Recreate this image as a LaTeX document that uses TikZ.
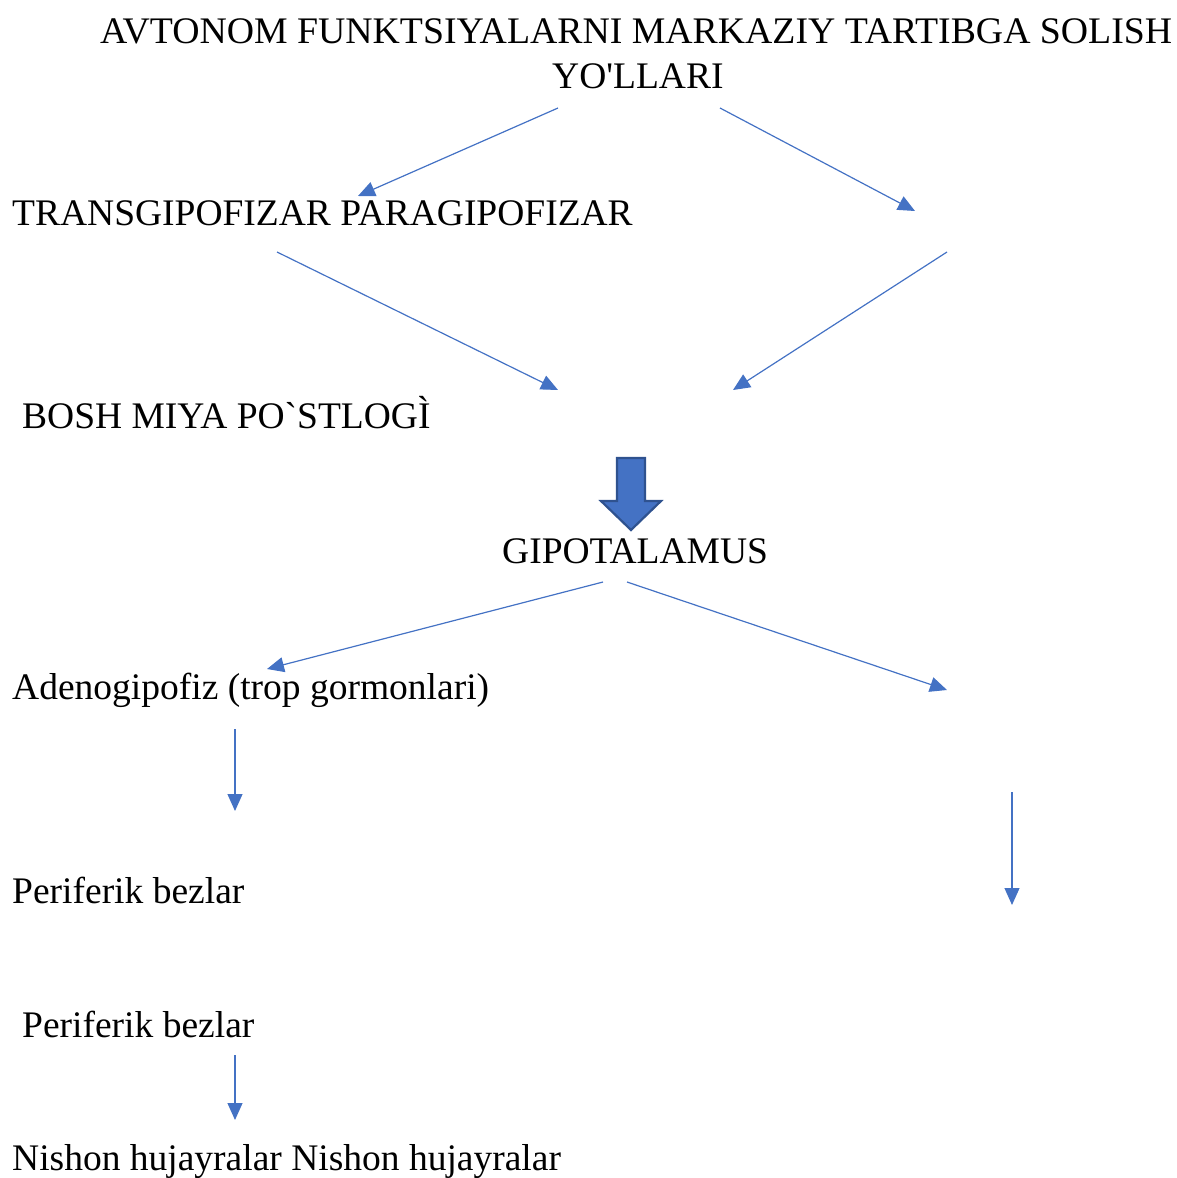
\documentclass[tikz,border=0pt]{standalone}
\usepackage{fontspec}
\usepackage{graphicx}
\setmainfont{Liberation Serif}[Ligatures=TeXOff]
\usetikzlibrary{arrows.meta}

\definecolor{lineblue}{RGB}{68,114,196}
\definecolor{edgeblue}{RGB}{47,82,143}

\tikzset{
  txt/.style={anchor=base west, inner sep=0pt},
  link/.style={draw=lineblue, line width=1.2pt,
    -{Triangle[length=17pt,width=15pt]}},
  bigarrow/.style={fill=lineblue, draw=edgeblue, line width=2.2pt}
}

\begin{document}
\begin{tikzpicture}[x=1pt, y=-1pt, font=\fontsize{37.5}{44}\selectfont]
\useasboundingbox (0,0) rectangle (1176,1178);

% texts
\node[txt] (title) at (100,43)
  {\resizebox{1072pt}{\height}{AVTONOM FUNKTSIYALARNI MARKAZIY TARTIBGA SOLISH}};
\node[txt] (title2) at (552,88) {YO'LLARI};
\node[txt] (trans) at (12,225) {TRANSGIPOFIZAR PARAGIPOFIZAR};
\node[txt] (bosh) at (22,428) {BOSH MIYA PO`STLOGÌ};
\node[txt] (gipo) at (502,563) {GIPOTALAMUS};
\node[txt] (adeno) at (12,699) {Adenogipofiz (trop gormonlari)};
\node[txt] (perif1) at (12,903) {Periferik bezlar};
\node[txt] (perif2) at (22,1037) {Periferik bezlar};
\node[txt] (nishon) at (12,1170) {Nishon hujayralar Nishon hujayralar};

% arrow ends
\coordinate (a1s) at (558,108);  \coordinate (a1e) at (358,196);
\coordinate (a2s) at (720,108);  \coordinate (a2e) at (915,211);
\coordinate (a3s) at (277,252);  \coordinate (a3e) at (558,390);
\coordinate (a4s) at (947,252);  \coordinate (a4e) at (733,390);
\coordinate (a5s) at (603,582);  \coordinate (a5e) at (267,669);
\coordinate (a6s) at (627,582);  \coordinate (a6e) at (947,690);
\coordinate (a7s) at (235,729);  \coordinate (a7e) at (235,811);
\coordinate (a8s) at (1012,792); \coordinate (a8e) at (1012,905);
\coordinate (a9s) at (235,1055); \coordinate (a9e) at (235,1120);

\draw[link] (a1s) -- (a1e);
\draw[link] (a2s) -- (a2e);
\draw[link] (a3s) -- (a3e);
\draw[link] (a4s) -- (a4e);
\draw[link] (a5s) -- (a5e);
\draw[link] (a6s) -- (a6e);
\draw[link] (a7s) -- (a7e);
\draw[link] (a8s) -- (a8e);
\draw[link] (a9s) -- (a9e);

% block arrow down to GIPOTALAMUS
\draw[bigarrow] (617,458) -- (645,458) -- (645,501) -- (661,501)
  -- (631,530) -- (601,501) -- (617,501) -- cycle;
\end{tikzpicture}
\end{document}
